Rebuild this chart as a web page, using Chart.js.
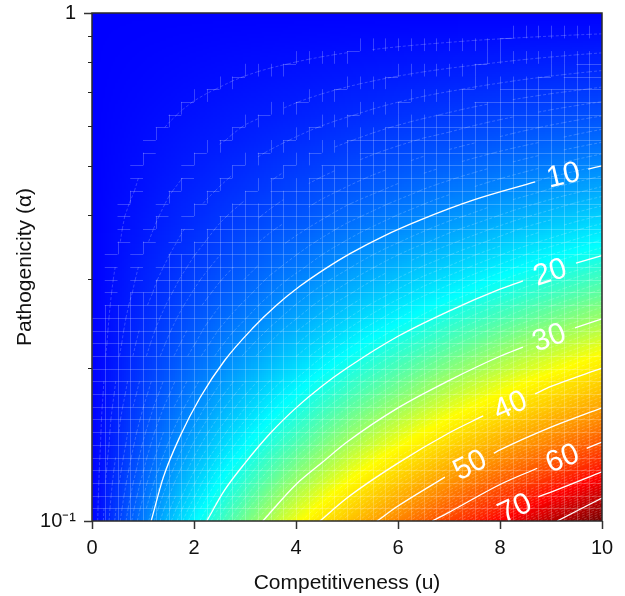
<!DOCTYPE html>
<html>
<head>
<meta charset="utf-8">
<title>Pathogenicity vs competitiveness</title>
<script src="https://cdn.jsdelivr.net/npm/chart.js@4/dist/chart.umd.min.js"></script>
<style>
    html, body { margin: 0; padding: 0; background: #fff; }
    canvas { display: block; }
</style>
</head>
<body>
<canvas id="chart" width="625" height="596"></canvas>
<script>
/* ================= DATA ================= */
const xTicks = [0, 2, 4, 6, 8, 10];
const yTicks = [0.1, 0.2, 0.3, 0.4, 0.5, 0.6, 0.7, 0.8, 0.9, 1];
const heatX = [0, 0.5, 1, 1.5, 2, 2.5, 3, 3.5, 4, 4.5, 5, 5.5, 6, 6.5, 7, 7.5, 8, 8.5, 9, 9.5, 10];
const heatAlpha = [0.1, 0.1122, 0.1259, 0.1413, 0.1585, 0.1778, 0.1995, 0.2239, 0.2512, 0.2818, 0.3162,
    0.3548, 0.3981, 0.4467, 0.5012, 0.5623, 0.631, 0.7079, 0.7943, 0.8913, 1];

// one row per heatAlpha, one value per heatX
const heatValues = [
    [0, 4.5, 9, 13.5, 18, 22.5, 27, 31.5, 36, 40.5, 45, 49.5, 54, 58.5, 63, 67.5, 72, 76.5, 81, 85.5, 90],
    [0, 4, 7.9, 11.9, 15.8, 19.8, 23.7, 27.7, 31.7, 35.6, 39.6, 43.5, 47.5, 51.4, 55.4, 59.3, 63.3, 67.3, 71.2, 75.2, 79.1],
    [0, 3.5, 6.9, 10.4, 13.9, 17.4, 20.8, 24.3, 27.8, 31.2, 34.7, 38.2, 41.7, 45.1, 48.6, 52.1, 55.5, 59, 62.5, 66, 69.4],
    [0, 3, 6.1, 9.1, 12.2, 15.2, 18.2, 21.3, 24.3, 27.4, 30.4, 33.4, 36.5, 39.5, 42.6, 45.6, 48.6, 51.7, 54.7, 57.8, 60.8],
    [0, 2.7, 5.3, 8, 10.6, 13.3, 15.9, 18.6, 21.2, 23.9, 26.6, 29.2, 31.9, 34.5, 37.2, 39.8, 42.5, 45.1, 47.8, 50.4, 53.1],
    [0, 2.3, 4.6, 6.9, 9.2, 11.6, 13.9, 16.2, 18.5, 20.8, 23.1, 25.4, 27.7, 30, 32.4, 34.7, 37, 39.3, 41.6, 43.9, 46.2],
    [0, 2, 4, 6, 8, 10, 12, 14, 16, 18.1, 20.1, 22.1, 24.1, 26.1, 28.1, 30.1, 32.1, 34.1, 36.1, 38.1, 40.1],
    [0, 1.7, 3.5, 5.2, 6.9, 8.7, 10.4, 12.1, 13.9, 15.6, 17.3, 19.1, 20.8, 22.5, 24.3, 26, 27.7, 29.5, 31.2, 32.9, 34.7],
    [0, 1.5, 3, 4.5, 6, 7.5, 8.9, 10.4, 11.9, 13.4, 14.9, 16.4, 17.9, 19.4, 20.9, 22.4, 23.8, 25.3, 26.8, 28.3, 29.8],
    [0, 1.3, 2.5, 3.8, 5.1, 6.4, 7.6, 8.9, 10.2, 11.5, 12.7, 14, 15.3, 16.6, 17.8, 19.1, 20.4, 21.7, 22.9, 24.2, 25.5],
    [0, 1.1, 2.2, 3.2, 4.3, 5.4, 6.5, 7.6, 8.6, 9.7, 10.8, 11.9, 13, 14.1, 15.1, 16.2, 17.3, 18.4, 19.5, 20.5, 21.6],
    [0, 0.9, 1.8, 2.7, 3.6, 4.5, 5.5, 6.4, 7.3, 8.2, 9.1, 10, 10.9, 11.8, 12.7, 13.6, 14.5, 15.5, 16.4, 17.3, 18.2],
    [0, 0.8, 1.5, 2.3, 3, 3.8, 4.5, 5.3, 6, 6.8, 7.6, 8.3, 9.1, 9.8, 10.6, 11.3, 12.1, 12.9, 13.6, 14.4, 15.1],
    [0, 0.6, 1.2, 1.9, 2.5, 3.1, 3.7, 4.3, 5, 5.6, 6.2, 6.8, 7.4, 8.1, 8.7, 9.3, 9.9, 10.5, 11.2, 11.8, 12.4],
    [0, 0.5, 1, 1.5, 2, 2.5, 3, 3.5, 4, 4.5, 5, 5.5, 6, 6.5, 7, 7.5, 8, 8.5, 9, 9.5, 10],
    [0, 0.4, 0.8, 1.2, 1.6, 1.9, 2.3, 2.7, 3.1, 3.5, 3.9, 4.3, 4.7, 5.1, 5.4, 5.8, 6.2, 6.6, 7, 7.4, 7.8],
    [0, 0.3, 0.6, 0.9, 1.2, 1.5, 1.8, 2, 2.3, 2.6, 2.9, 3.2, 3.5, 3.8, 4.1, 4.4, 4.7, 5, 5.3, 5.6, 5.9],
    [0, 0.21, 0.41, 0.62, 0.83, 1.03, 1.24, 1.45, 1.65, 1.86, 2.07, 2.27, 2.48, 2.69, 2.89, 3.1, 3.3, 3.51, 3.72, 3.92, 4.13],
    [0, 0.13, 0.26, 0.39, 0.52, 0.65, 0.78, 0.91, 1.04, 1.17, 1.3, 1.42, 1.55, 1.68, 1.81, 1.94, 2.07, 2.2, 2.33, 2.46, 2.59],
    [0, 0.06, 0.12, 0.18, 0.24, 0.31, 0.37, 0.43, 0.49, 0.55, 0.61, 0.67, 0.73, 0.79, 0.85, 0.92, 0.98, 1.04, 1.1, 1.16, 1.22],
    [0, 0, 0, 0, 0, 0, 0, 0, 0, 0, 0, 0, 0, 0, 0, 0, 0, 0, 0, 0, 0]
];

// contour lines, null leaves the gap for the label
const contour10X = [1.16, 1.4, 1.73, 2.12, 2.6, 3.14, 3.6, 4.08, 4.6, 5.06, 5.7, 6.43, 7.5, 8.69, null, 9.73, 10];
const contour10Y = [0.1, 0.122, 0.147, 0.175, 0.207, 0.239, 0.265, 0.29, 0.315, 0.336, 0.363, 0.391, 0.429, 0.465, null, 0.493, 0.5];
const contour20X = [2.25, 2.6, 3, 3.5, 4, 4.5, 5, 6, 7, 8, 8.45, null, 9.49, 10];
const contour20Y = [0.1, 0.115, 0.13, 0.149, 0.167, 0.184, 0.2, 0.231, 0.259, 0.286, 0.297, null, 0.322, 0.333];
const contour30X = [3.35, 4, 4.5, 5, 6, 7, 8, 8.45, null, 9.47, 10];
const contour30Y = [0.1, 0.118, 0.13, 0.143, 0.167, 0.189, 0.211, 0.22, null, 0.24, 0.25];
const contour40X = [4.47, 5, 6, 7, 7.67, null, 8.69, 9, 10];
const contour40Y = [0.1, 0.111, 0.13, 0.149, 0.161, null, 0.178, 0.184, 0.2];
const contour50X = [5.59, 6, 6.92, null, 7.88, 8, 9, 10];
const contour50Y = [0.1, 0.107, 0.122, null, 0.136, 0.138, 0.153, 0.167];
const contour60X = [6.67, 7, 8, 8.73, null, 9.7, 10];
const contour60Y = [0.1, 0.104, 0.118, 0.127, null, 0.139, 0.143];
const contour70X = [8.75, 9, 10];
const contour70Y = [0.1116, 0.114, 0.125];
const contour80X = [9.12, 10];
const contour80Y = [0.1, 0.111];

const labelText = ['10', '20', '30', '40', '50', '60', '70'];
const labelX = [9.24, 8.98, 8.96, 8.2, 7.41, 9.22, 8.29];
const labelY = [0.48, 0.309, 0.23, 0.169, 0.129, 0.133, 0.106];
const labelAngle = [-13.5, -18, -20, -23.5, -27, -22, -25];

/* ================= HELPERS ================= */
const FONT = '"Liberation Sans", Arial, sans-serif';

function pairs(xs, ys) {
    return xs.map((x, i) => ({ x: x, y: ys[i] }));
}

// blue - cyan - yellow - red - dark red, stops
function jet(v) {
    let r = 0, g = 0, b = 0;
    if (v < 18.5) { g = v / 18.5; b = 1; }
    else if (v < 37) { r = (v - 18.5) / 18.5; g = 1; b = 1 - r; }
    else if (v < 72) { r = 1; g = (72 - v) / 35; }
    else { r = 1 - Math.min(1, (v - 72) / 18) * 0.55; }
    return `rgb(${Math.round(r * 255)},${Math.round(g * 255)},${Math.round(b * 255)})`;
}

function mix(a, b, t) {
    return a + (b - a) * t;
}

function gridValue(fx, fy) {
    const i = Math.min(Math.floor(fx), heatX.length - 2);
    const j = Math.min(Math.floor(fy), heatAlpha.length - 2);
    const tx = fx - i, ty = fy - j;
    return mix(
        mix(heatValues[j][i], heatValues[j][i + 1], tx),
        mix(heatValues[j + 1][i], heatValues[j + 1][i + 1], tx),
        ty
    );
}

// true when an integer level lies between two corner values
function crossed(a, b) {
    return Math.floor(a) !== Math.floor(b);
}

/* ================= HEAT MAP PLUGIN ================= */
const heatPlugin = {
    id: 'heat',
    beforeDatasetsDraw(chart) {
        const { ctx, chartArea, scales } = chart;
        const px = heatX.map(v => scales.x.getPixelForValue(v));
        const py = heatAlpha.map(v => scales.y.getPixelForValue(v));

        ctx.save();
        ctx.beginPath();
        ctx.rect(chartArea.left, chartArea.top, chartArea.width, chartArea.height);
        ctx.clip();

        // shading, each data cell painted in small steps
        const SUB = 12;
        for (let j = 0; j < heatAlpha.length - 1; j++) {
            for (let i = 0; i < heatX.length - 1; i++) {
                for (let sj = 0; sj < SUB; sj++) {
                    const y0 = Math.round(mix(py[j], py[j + 1], sj / SUB));
                    const y1 = Math.round(mix(py[j], py[j + 1], (sj + 1) / SUB));
                    for (let si = 0; si < SUB; si++) {
                        const x0 = Math.round(mix(px[i], px[i + 1], si / SUB));
                        const x1 = Math.round(mix(px[i], px[i + 1], (si + 1) / SUB));
                        ctx.fillStyle = jet(gridValue(i + (si + 0.5) / SUB, j + (sj + 0.5) / SUB));
                        ctx.fillRect(x0, y1, x1 - x0, y0 - y1);
                    }
                }
            }
        }

        // half-cell mesh, the contourf seams and cell edges of the original
        const n = (heatX.length - 1) * 2;
        const nodeX = k => mix(px[0], px[px.length - 1], k / n);
        const nodeY = k => mix(py[0], py[py.length - 1], k / n);
        const edges = new Set();

        ctx.beginPath();
        for (let j = 0; j < n; j++) {
            for (let i = 0; i < n; i++) {
                const v00 = gridValue(i / 2, j / 2), v10 = gridValue((i + 1) / 2, j / 2);
                const v01 = gridValue(i / 2, (j + 1) / 2), v11 = gridValue((i + 1) / 2, (j + 1) / 2);
                const lo = Math.min(v00, v10, v01, v11), hi = Math.max(v00, v10, v01, v11);
                const x0 = nodeX(i), x1 = nodeX(i + 1), y0 = nodeY(j), y1 = nodeY(j + 1);
                for (let level = Math.ceil(lo + 1e-6); level <= hi; level++) {
                    const cuts = [];
                    if ((v00 - level) * (v10 - level) < 0) cuts.push([mix(x0, x1, (level - v00) / (v10 - v00)), y0]);
                    if ((v10 - level) * (v11 - level) < 0) cuts.push([x1, mix(y0, y1, (level - v10) / (v11 - v10))]);
                    if ((v01 - level) * (v11 - level) < 0) cuts.push([mix(x0, x1, (level - v01) / (v11 - v01)), y1]);
                    if ((v00 - level) * (v01 - level) < 0) cuts.push([x0, mix(y0, y1, (level - v00) / (v01 - v00))]);
                    if (cuts.length >= 2) {
                        ctx.moveTo(cuts[0][0], cuts[0][1]);
                        ctx.lineTo(cuts[1][0], cuts[1][1]);
                    }
                }
                // steep cells keep the whole outline, flat ones only the edges a level crosses
                const steep = hi - lo >= 0.8;
                if (steep || crossed(v00, v10)) edges.add(`h${i},${j}`);
                if (steep || crossed(v01, v11)) edges.add(`h${i},${j + 1}`);
                if (steep || crossed(v00, v01)) edges.add(`v${i},${j}`);
                if (steep || crossed(v10, v11)) edges.add(`v${i + 1},${j}`);
            }
        }
        ctx.strokeStyle = 'rgba(255,255,255,0.26)';
        ctx.lineWidth = 0.8;
        ctx.setLineDash([3, 2]);
        ctx.stroke();
        ctx.setLineDash([]);

        ctx.beginPath();
        edges.forEach(e => {
            const [i, j] = e.slice(1).split(',').map(Number);
            if (e[0] === 'h') {
                const y = Math.round(nodeY(j)) + 0.5;
                ctx.moveTo(nodeX(i), y);
                ctx.lineTo(nodeX(i + 1), y);
            } else {
                const x = Math.round(nodeX(i)) + 0.5;
                ctx.moveTo(x, nodeY(j));
                ctx.lineTo(x, nodeY(j + 1));
            }
        });
        ctx.strokeStyle = 'rgba(255,255,255,0.22)';
        ctx.lineWidth = 1;
        ctx.stroke();
        ctx.restore();
    },
    afterDatasetsDraw(chart) {
        const { ctx, chartArea, scales } = chart;
        // contour labels, clipped by the plot like the 70
        ctx.save();
        ctx.beginPath();
        ctx.rect(chartArea.left, chartArea.top, chartArea.width, chartArea.height);
        ctx.clip();
        ctx.fillStyle = '#fff';
        ctx.font = `30px ${FONT}`;
        ctx.textAlign = 'center';
        ctx.textBaseline = 'middle';
        labelText.forEach((txt, i) => {
            ctx.save();
            ctx.translate(scales.x.getPixelForValue(labelX[i]), scales.y.getPixelForValue(labelY[i]));
            ctx.rotate(labelAngle[i] * Math.PI / 180);
            ctx.fillText(txt, 0, 1);
            ctx.restore();
        });
        ctx.restore();
    },
    afterDraw(chart) {
        const { ctx, chartArea, scales } = chart;
        ctx.save();
        // minor ticks of the log axis
        ctx.strokeStyle = '#222';
        ctx.lineWidth = 1;
        ctx.beginPath();
        scales.y.ticks.forEach(t => {
            if (t.value > 0.101 && t.value < 0.99) {
                const y = Math.round(scales.y.getPixelForValue(t.value)) + 0.5;
                ctx.moveTo(chartArea.left - 4, y);
                ctx.lineTo(chartArea.left, y);
            }
        });
        ctx.stroke();
        // frame
        ctx.strokeStyle = '#2a2a2a';
        ctx.lineWidth = 1.5;
        ctx.strokeRect(chartArea.left, chartArea.top, chartArea.width, chartArea.height);
        ctx.restore();
    }
};

/* ================= CHART ================= */
function contourSet(xs, ys) {
    return {
        data: pairs(xs, ys),
        showLine: true,
        spanGaps: false,
        borderColor: '#fff',
        borderWidth: 1.3,
        cubicInterpolationMode: 'monotone',
        pointRadius: 0
    };
}

new Chart(document.getElementById('chart').getContext('2d'), {
    type: 'scatter',
    data: {
        datasets: [
            contourSet(contour10X, contour10Y),
            contourSet(contour20X, contour20Y),
            contourSet(contour30X, contour30Y),
            contourSet(contour40X, contour40Y),
            contourSet(contour50X, contour50Y),
            contourSet(contour60X, contour60Y),
            contourSet(contour70X, contour70Y),
            contourSet(contour80X, contour80Y)
        ]
    },
    options: {
        responsive: false,
        animation: false,
        layout: { padding: { top: 13, right: 23, left: 0, bottom: 0 } },
        plugins: { legend: { display: false }, tooltip: { enabled: false } },
        scales: {
            x: {
                type: 'linear',
                min: 0,
                max: 10,
                afterBuildTicks: axis => { axis.ticks = xTicks.map(v => ({ value: v })); },
                afterFit: axis => { axis.height = 75; axis.paddingLeft = 0; axis.paddingRight = 0; },
                grid: { drawOnChartArea: false, tickLength: 8, tickColor: '#333', tickWidth: 1.5 },
                border: { display: false },
                ticks: { color: '#111', font: { family: FONT, size: 20 }, padding: 7, maxRotation: 0 },
                title: { display: true, text: 'Competitiveness (u)', color: '#111', font: { family: FONT, size: 21 }, padding: { top: 3, bottom: 0 } }
            },
            y: {
                type: 'logarithmic',
                min: 0.1,
                max: 1,
                afterBuildTicks: axis => { axis.ticks = yTicks.map(v => ({ value: v })); },
                afterFit: axis => { axis.width = 92; axis.paddingTop = 0; axis.paddingBottom = 0; },
                grid: {
                    drawOnChartArea: false,
                    tickLength: 8,
                    tickWidth: 1.5,
                    tickColor: c => (c.tick && (c.tick.value <= 0.101 || c.tick.value >= 0.99)) ? '#333' : 'rgba(0,0,0,0)'
                },
                border: { display: false },
                ticks: {
                    color: '#111',
                    font: { family: FONT, size: 20 },
                    padding: 8,
                    autoSkip: false,
                    callback: v => v >= 0.99 ? '1' : (v <= 0.101 ? '10\u207B\u00B9' : '')
                },
                title: { display: true, text: 'Pathogenicity (\u03B1)', color: '#111', font: { family: FONT, size: 21 }, padding: { top: 13, bottom: 0 } }
            }
        }
    },
    plugins: [heatPlugin]
});
</script>
</body>
</html>
